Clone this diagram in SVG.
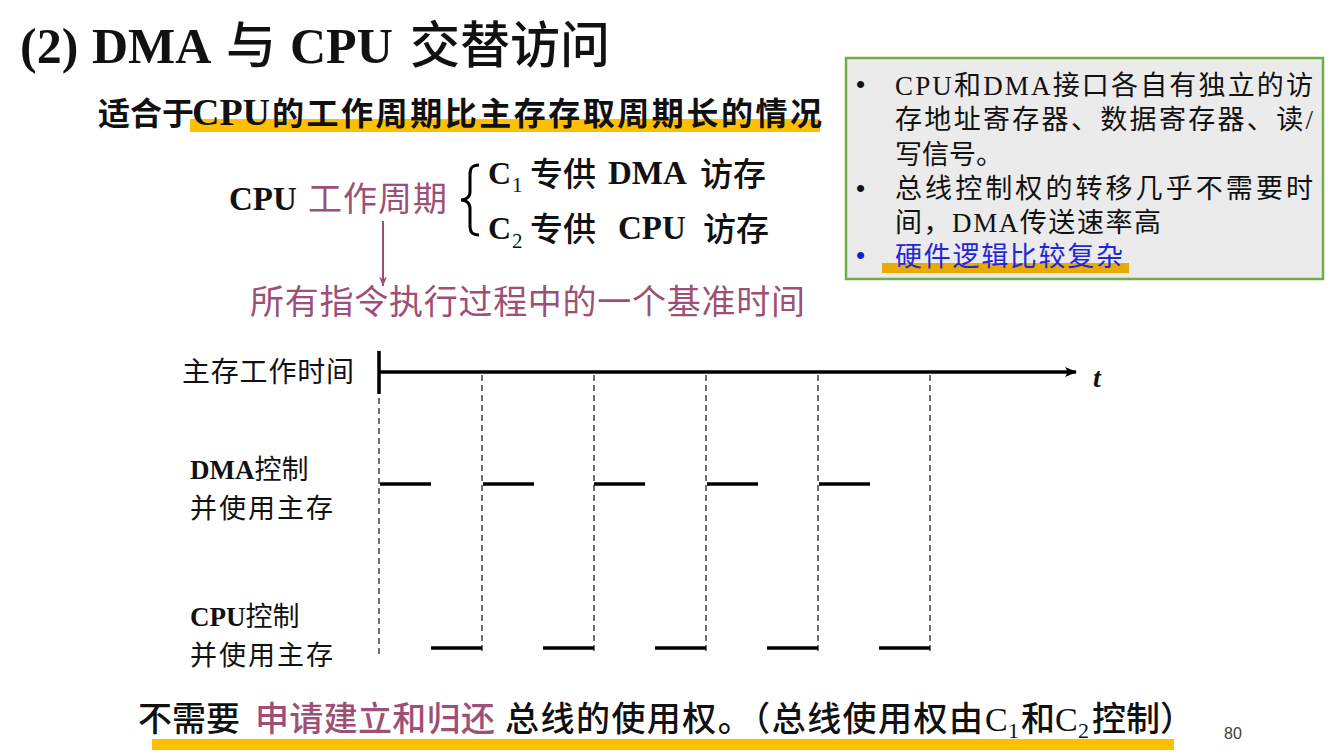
<svg xmlns="http://www.w3.org/2000/svg" width="1329" height="756" viewBox="0 0 1329 756">
  <style>
    .serif { font-family: "Liberation Serif", "Noto Sans CJK SC", serif; }
    .cjk { font-family: "Noto Sans CJK SC", "Liberation Sans", sans-serif; }
    .bold { font-weight: 700; }
    .purple { fill: #9e4f75; }
    .ink { fill: #111111; }
    .hl { fill: #ffc000; }
    .dot { font-family: "Liberation Sans", sans-serif; font-size: 26px; }
    .axis { stroke: #000; stroke-width: 3.5; fill: none; }
    .grid { stroke: #222; stroke-width: 1.3; stroke-dasharray: 6 4; fill: none; }
    .bar { stroke: #000; stroke-width: 3.5; fill: none; }
  </style>
  <defs>
    <marker id="axisHead" viewBox="0 0 12 10" refX="11" refY="5" markerWidth="12" markerHeight="10" markerUnits="userSpaceOnUse" orient="auto">
      <path d="M0,0 L12,5 L0,10 L3,5 Z" fill="#000"/>
    </marker>
    <marker id="noteHead" viewBox="0 0 8 10" refX="4" refY="9.5" markerWidth="8" markerHeight="10" markerUnits="userSpaceOnUse" orient="0">
      <path d="M0,0 L4,10 L8,0 L4,3 Z" fill="#9e4f75"/>
    </marker>
  </defs>

  <rect width="1329" height="756" fill="#ffffff"/>

  <!-- heading -->
  <g id="title">
    <text class="serif bold ink" y="63" font-size="50">
      <tspan x="20">(2)</tspan><tspan x="92">DMA</tspan><tspan x="226" font-weight="500" class="cjk">与</tspan><tspan x="290">CPU</tspan><tspan x="410" font-weight="500" class="cjk">交替访问</tspan>
    </text>
  </g>

  <!-- subtitle with highlight -->
  <g id="subtitle">
    <rect class="hl" x="190" y="119" width="630" height="13"/>
    <text class="cjk ink" y="125" font-size="32" font-weight="700"><tspan x="98">适合于</tspan></text>
    <text class="serif bold ink" x="192" y="125" font-size="37" textLength="78" lengthAdjust="spacingAndGlyphs">CPU</text>
    <text class="cjk ink" x="272" y="125" font-size="32" font-weight="700" textLength="550">的工作周期比主存存取周期长的情况</text>
  </g>

  <!-- notes box -->
  <g id="notes">
    <rect x="846" y="58" width="477" height="221" fill="#ebebeb" stroke="#70ad47" stroke-width="2.5"/>
    <rect x="882" y="263" width="247" height="10" fill="#e8ac00"/>
    <text class="dot ink" x="856" y="93">•</text>
    <text class="dot ink" x="856" y="197">•</text>
    <text class="dot" x="856" y="264" fill="#1a1ad6">•</text>
    <text class="serif ink" font-size="27" x="895" y="95" textLength="418">CPU和DMA接口各自有独立的访</text>
    <text class="serif ink" font-size="27" x="895" y="129" textLength="418">存地址寄存器、数据寄存器、读/</text>
    <text class="serif ink" font-size="27" x="895" y="164">写信号。</text>
    <text class="serif ink" font-size="27" x="895" y="198" textLength="418">总线控制权的转移几乎不需要时</text>
    <text class="serif ink" font-size="27" x="895" y="232" textLength="266">间，DMA传送速率高</text>
    <text class="serif" font-size="27" x="895" y="266" fill="#2424d8" textLength="228">硬件逻辑比较复杂</text>
  </g>

  <!-- CPU working cycle definition -->
  <g id="cycle">
    <text class="serif bold ink" x="229" y="210" font-size="33">CPU</text>
    <text class="cjk purple" x="308" y="211" font-size="34" textLength="139">工作周期</text>
    <path d="M479,165 C472,165 470,168 470,174 L470,192 C470,197 466,200 461,200 C466,200 470,203 470,208 L470,226 C470,232 472,235 479,235" fill="none" stroke="#000" stroke-width="3"/>
    <text class="serif bold ink" x="488" y="184" font-size="32">C</text>
    <text class="serif ink" x="512" y="192" font-size="21">1</text>
    <text class="cjk ink" x="530" y="186" font-size="33" font-weight="500">专供</text>
    <text class="serif bold ink" x="608" y="184" font-size="33">DMA</text>
    <text class="cjk ink" x="700" y="186" font-size="33" font-weight="500">访存</text>
    <text class="serif bold ink" x="488" y="239" font-size="32">C</text>
    <text class="serif ink" x="512" y="248" font-size="21">2</text>
    <text class="cjk ink" x="530" y="241" font-size="33" font-weight="500">专供</text>
    <text class="serif bold ink" x="618" y="239" font-size="33">CPU</text>
    <text class="cjk ink" x="703" y="241" font-size="33" font-weight="500">访存</text>
  </g>

  <g id="connectors">
    <line x1="383" y1="221" x2="383" y2="286" stroke="#9e4f75" stroke-width="2" marker-end="url(#noteHead)"/>
  </g>

  <g id="basis">
    <text class="cjk purple" x="250" y="314" font-size="34" textLength="555">所有指令执行过程中的一个基准时间</text>
  </g>

  <!-- timing chart -->
  <g id="timeline">
    <text class="cjk ink" x="182" y="382" font-size="28" textLength="172">主存工作时间</text>
    <line class="axis" x1="379" y1="351" x2="379" y2="394" stroke-width="4"/>
    <line class="axis" x1="379" y1="372" x2="1076" y2="372" marker-end="url(#axisHead)"/>
    <text class="serif bold ink" x="1093" y="387" font-size="28" font-style="italic">t</text>

    <line class="grid" x1="379" y1="398" x2="379" y2="655"/>
    <line class="grid" x1="482" y1="375" x2="482" y2="655"/>
    <line class="grid" x1="594" y1="375" x2="594" y2="655"/>
    <line class="grid" x1="706" y1="375" x2="706" y2="655"/>
    <line class="grid" x1="818" y1="375" x2="818" y2="655"/>
    <line class="grid" x1="930" y1="375" x2="930" y2="655"/>
  </g>

  <g id="dma-slots">
    <text class="serif bold ink" x="190" y="479" font-size="27">DMA<tspan class="cjk" font-weight="400">控制</tspan></text>
    <text class="cjk ink" x="190" y="518" font-size="27" textLength="143">并使用主存</text>
    <line class="bar" x1="380" y1="484" x2="431" y2="484"/>
    <line class="bar" x1="483" y1="484" x2="534" y2="484"/>
    <line class="bar" x1="594" y1="484" x2="645" y2="484"/>
    <line class="bar" x1="707" y1="484" x2="758" y2="484"/>
    <line class="bar" x1="819" y1="484" x2="870" y2="484"/>
  </g>

  <g id="cpu-slots">
    <text class="serif bold ink" x="190" y="626" font-size="27">CPU<tspan class="cjk" font-weight="400">控制</tspan></text>
    <text class="cjk ink" x="190" y="665" font-size="27" textLength="143">并使用主存</text>
    <line class="bar" x1="431" y1="648" x2="482" y2="648"/>
    <line class="bar" x1="543" y1="648" x2="594" y2="648"/>
    <line class="bar" x1="655" y1="648" x2="706" y2="648"/>
    <line class="bar" x1="767" y1="648" x2="818" y2="648"/>
    <line class="bar" x1="879" y1="648" x2="930" y2="648"/>
  </g>

  <!-- closing remark -->
  <g id="remark">
    <rect class="hl" x="152" y="739" width="1022" height="11"/>
    <text class="cjk ink" x="138" y="731" font-size="34" font-weight="500">不需要</text>
    <text class="cjk purple" x="255" y="731" font-size="34" font-weight="500" textLength="240">申请建立和归还</text>
    <text class="cjk ink" x="505" y="731" font-size="34" font-weight="500" textLength="478">总线的使用权。（总线使用权由</text>
    <text class="serif ink" x="985" y="731" font-size="34">C</text>
    <text class="serif ink" x="1008" y="738" font-size="22">1</text>
    <text class="cjk ink" x="1021" y="731" font-size="34" font-weight="500">和</text>
    <text class="serif ink" x="1055" y="731" font-size="34">C</text>
    <text class="serif ink" x="1078" y="738" font-size="22">2</text>
    <text class="cjk ink" x="1092" y="731" font-size="34" font-weight="500">控制）</text>
    <text x="1224" y="739" font-size="16" fill="#404040" font-family="Liberation Sans, sans-serif">80</text>
  </g>
</svg>
